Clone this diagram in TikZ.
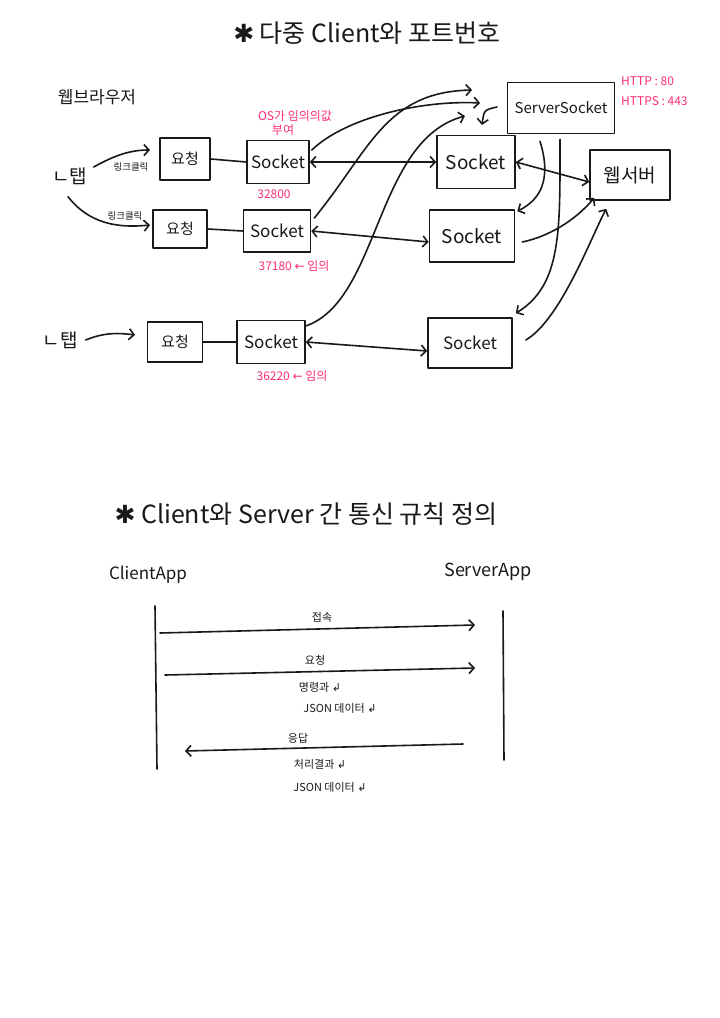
\documentclass[tikz,border=0pt]{standalone}
\usepackage{fontspec}
\setmainfont{Noto Sans CJK KR}
\newfontfamily\symf{DejaVu Sans}
\usetikzlibrary{arrows.meta}
\definecolor{pinkink}{RGB}{255,45,120}
\definecolor{ink}{RGB}{25,25,25}
\newcommand{\fs}[1]{\fontsize{#1}{#1}\selectfont}
\begin{document}
\begin{tikzpicture}[x=1pt,y=-1pt,
  ink/.style={draw=ink, line width=1.6pt, line cap=round, line join=round},
  box/.style={ink, inner sep=0pt, text=ink},
  arr/.style={ink, -{Straight Barb[length=5pt,width=11pt]}},
  darr/.style={ink, {Straight Barb[length=5pt,width=11pt]}-{Straight Barb[length=5pt,width=11pt]}},
  note/.style={text=pinkink, inner sep=0pt},
  lbl/.style={text=ink, inner sep=0pt},
]
\useasboundingbox[fill=white] (0,0) rectangle (720,1018);

% ---------- titles ----------
\node[lbl, font=\fs{25}] (t1) at (367,33) {{\symf ✱} 다중 Client와 포트번호};
\node[lbl, font=\fs{17}] (browser) at (97,97) {웹브라우저};

% ---------- left side ----------
\node[lbl, font=\fs{19}] (tab1) at (70,176) {ㄴ탭};
\node[lbl, font=\fs{19}] (tab2) at (60,340) {ㄴ탭};

\node[box, minimum width=50pt, minimum height=42pt, font=\fs{15}] (req1) at (185,159) {요청};
\node[box, minimum width=54pt, minimum height=38pt, font=\fs{15}] (req2) at (180,229) {요청};
\node[box, minimum width=55pt, minimum height=40pt, font=\fs{15}] (req3) at (175,342) {요청};

\node[box, minimum width=62pt, minimum height=43pt, font=\fs{17}] (s1) at (278,162) {Socket};
\node[box, minimum width=67pt, minimum height=42pt, font=\fs{17}] (s2) at (277,231) {Socket};
\node[box, minimum width=68pt, minimum height=43pt, font=\fs{17}] (s3) at (271,342) {Socket};

\node[lbl, font=\fs{9.5}] (click1) at (131,167) {링크클릭};
\node[lbl, font=\fs{9.5}] (click2) at (125,216) {링크클릭};

\node[note, font=\fs{12}] (os1) at (295,116) {OS가 임의의값};
\node[note, font=\fs{12}] (os2) at (283,130) {부여};
\node[note, font=\fs{12}] (p1) at (274,194) {32800};
\node[note, font=\fs{12}] (p2) at (294,266) {37180 {\symf ←} 임의};
\node[note, font=\fs{12}] (p3) at (292,376) {36220 {\symf ←} 임의};

% ---------- right side ----------
\node[box, minimum width=107pt, minimum height=51pt, font=\fs{15}] (ss) at (561,108) {ServerSocket};
\node[note, font=\fs{12}, anchor=west] (http) at (621,81) {HTTP : 80};
\node[note, font=\fs{12}, anchor=west] (https) at (621,101) {HTTPS : 443};

\node[box, minimum width=78pt, minimum height=53pt, font=\fs{19}] (sa) at (476,162) {Socket};
\node[box, minimum width=85pt, minimum height=52pt, font=\fs{19}] (sb) at (472,236) {Socket};
\node[box, minimum width=84pt, minimum height=50pt, font=\fs{17}] (sc) at (470,343) {Socket};
\node[box, minimum width=80pt, minimum height=50pt, font=\fs{19}] (web) at (630,175) {웹서버};

% free ends
\coordinate (h1) at (150,150);
\coordinate (h2) at (150,225);
\coordinate (h3) at (135,335);
\coordinate (u1) at (480,103);
\coordinate (u2) at (472,90);
\coordinate (u3) at (465,116);
\coordinate (k0) at (497,107);
\coordinate (k1) at (482,125);

% ---------- connectors ----------
\draw[arr] ([shift={(6,-9)}]tab1.east) .. controls (112,157) and (128,150) .. (h1);
\draw[arr] ([shift={(-2,12)}]tab1.south) .. controls (90,225) and (120,228) .. (h2);
\draw[arr] ([xshift=8]tab2.east) .. controls (105,332) and (120,333) .. (h3);

\draw[ink] (req1.east) -- (s1.west);
\draw[ink] (req2.east) -- (s2.west);
\draw[ink] (req3.east) -- (s3.west);

\draw[darr] (s1.east) -- (sa.west);
\draw[darr] (s2.east) -- ([yshift=-6]sb.west);
\draw[darr] (s3.east) -- ([yshift=-8]sc.west);
\draw[darr] (sa.east) -- ([yshift=-7]web.west);

\draw[arr] ([shift={(2,-12)}]s1.east) .. controls (345,118) and (420,100) .. (u1);
\draw[arr] ([shift={(3,-13)}]s2.east) .. controls (370,150) and (385,92) .. (u2);
\draw[arr] ([shift={(0,-16)}]s3.east) .. controls (380,300) and (375,140) .. (u3);
\draw[arr] (k0) .. controls (484,110) .. (k1);

\draw[arr] ([shift={(-21,7)}]ss.south) .. controls (552,180) and (540,200) .. ([shift={(2,2)}]sb.north east);
\draw[arr] ([shift={(-1,5)}]ss.south) .. controls (560,230) and (562,285) .. ([shift={(3,-4)}]sc.north east);
\draw[arr] ([shift={(7,6)}]sb.east) .. controls (555,235) and (580,215) .. ([shift={(5,-3)}]web.south west);
\draw[arr] ([shift={(13,-3)}]sc.east) .. controls (560,320) and (590,240) .. ([shift={(17,8)}]web.south west);

% ---------- bottom part ----------
\node[lbl, font=\fs{25}] (t2) at (306,514) {{\symf ✱} Client와 Server 간 통신 규칙 정의};
\node[lbl, font=\fs{17}] (capp) at (148,575) {ClientApp};
\node[lbl, font=\fs{18}] (sapp) at (488,572) {ServerApp};

\coordinate (cl1) at (155,606);
\coordinate (cl2) at (157,769);
\coordinate (sl1) at (503,611);
\coordinate (sl2) at (504,760);
\draw[ink] (cl1) -- (cl2);
\draw[ink] (sl1) -- (sl2);

\coordinate (a1s) at (160,633);
\coordinate (a1e) at (475,625);
\coordinate (a2s) at (165,675);
\coordinate (a2e) at (475,668);
\coordinate (a3s) at (463,744);
\coordinate (a3e) at (185,751);
\draw[arr] (a1s) -- (a1e);
\draw[arr] (a2s) -- (a2e);
\draw[arr] (a3s) -- (a3e);

\node[lbl, font=\fs{11}] (m1) at (322,617) {접속};
\node[lbl, font=\fs{11}] (m2) at (315,660) {요청};
\node[lbl, font=\fs{11}] (m3) at (320,687) {명령과 {\symf ↲}};
\node[lbl, font=\fs{11}] (m4) at (340,708) {JSON 데이터 {\symf ↲}};
\node[lbl, font=\fs{11}] (m5) at (298,738) {응답};
\node[lbl, font=\fs{11}] (m6) at (320,764) {처리결과 {\symf ↲}};
\node[lbl, font=\fs{11}] (m7) at (330,787) {JSON 데이터 {\symf ↲}};
\end{tikzpicture}
\end{document}
